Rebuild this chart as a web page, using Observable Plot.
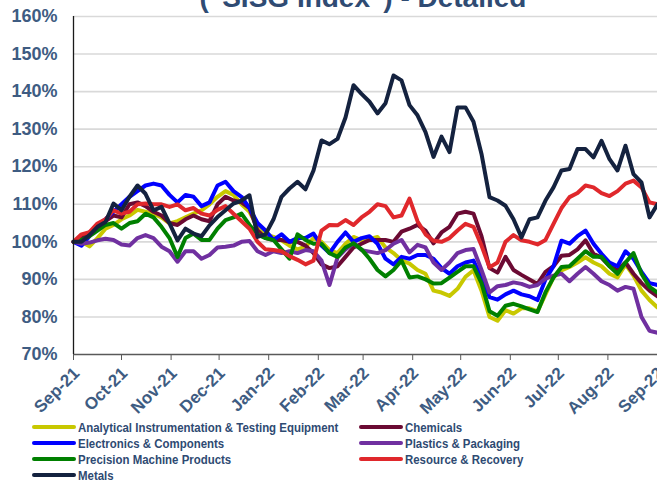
<!DOCTYPE html>
<html>
<head>
<meta charset="utf-8">
<script src="https://cdn.jsdelivr.net/npm/d3@7"></script>
<script src="https://cdn.jsdelivr.net/npm/@observablehq/plot@0.6"></script>
<style>
  html, body { margin: 0; padding: 0; background: #fff; }
  body { position: relative; width: 657px; height: 484px; overflow: hidden; font-family: "Liberation Sans", Arial, sans-serif; }
  #title { position: absolute; left: 363px; top: -16px; transform: translateX(-50%); white-space: nowrap;
           font: bold 28px/28px "Liberation Sans", Arial, sans-serif; color: #2F4B73; z-index: 2; }
  #legend { display: grid; grid-template-columns: 327px auto; padding-left: 32px; }
  #legend .item { height: 16px; display: flex; align-items: center; white-space: nowrap; }
  #legend .sw { display: inline-block; flex: none; width: 44px; height: 4.5px; border-radius: 2.5px; margin-right: 2px; }
  #legend .lab { display: inline-block; font-size: 13px; font-weight: bold; color: #2E4A72;
                 transform: scaleX(0.88); transform-origin: left center; }
</style>
</head>
<body>
<div id="title">("SISG Index") - Detailed</div>
<div id="chart"></div>
<div id="legend"></div>
<script>
const dates = [
  "2021-09-01","2021-09-06","2021-09-11","2021-09-16","2021-09-21","2021-09-26",
  "2021-10-01","2021-10-06","2021-10-11","2021-10-16","2021-10-21","2021-10-26","2021-10-31",
  "2021-11-05","2021-11-10","2021-11-15","2021-11-20","2021-11-25","2021-11-30",
  "2021-12-05","2021-12-10","2021-12-15","2021-12-20","2021-12-25","2021-12-30",
  "2022-01-04","2022-01-09","2022-01-14","2022-01-19","2022-01-24","2022-01-29",
  "2022-02-03","2022-02-08","2022-02-13","2022-02-18","2022-02-23","2022-02-28",
  "2022-03-05","2022-03-10","2022-03-15","2022-03-20","2022-03-25","2022-03-30",
  "2022-04-04","2022-04-09","2022-04-14","2022-04-19","2022-04-24","2022-04-29",
  "2022-05-04","2022-05-09","2022-05-14","2022-05-19","2022-05-24","2022-05-29",
  "2022-06-03","2022-06-08","2022-06-13","2022-06-18","2022-06-23","2022-06-28",
  "2022-07-03","2022-07-08","2022-07-13","2022-07-18","2022-07-23","2022-07-28",
  "2022-08-02","2022-08-07","2022-08-12","2022-08-17","2022-08-22","2022-08-27",
  "2022-09-01"
];

const seriesNames = [
  "Analytical Instrumentation & Testing Equipment",
  "Chemicals",
  "Electronics & Components",
  "Plastics & Packaging",
  "Precision Machine Products",
  "Resource & Recovery",
  "Metals"
];
const seriesColors = ["#C8C800", "#6B0A33", "#0000FF", "#7030A0", "#008000", "#E0282C", "#14223F"];

const analytical = [100,100,98.8,101,103.5,104.5,106,107,108.5,108,
  107.5,106.5,104.9,105.5,106.5,107.5,108.4,110,112,113.5,
  112.5,110,108,104,102,101.3,100.4,99,98,98.7,
  101,100,97.8,97,99.5,101.3,100.4,100.8,101.3,98.5,
  97,95.1,94.2,92.5,91.5,87,86.5,85.6,87.5,90.7,
  92.4,87,80,79,81.8,80.9,82.3,82.3,81.5,86,
  90.6,92.4,93.3,94.5,95.9,94.5,93.5,91.5,90.5,94,
  91,87,84.5,82.5];
const chemicals = [100,101,102.5,104,105.5,107,106.5,110,110.5,109.5,
  108,107,105,104.5,106,107,106,105.5,110,112,
  111,110.5,109,103,101,100.5,100.5,100,100,99,
  97,94,93,93.5,96,98.5,99.5,100.5,100.5,100.5,
  100,102.7,103.5,104.5,103,99.6,102.5,104,107.5,108,
  107.5,101.5,93,91.8,96,92.5,91.2,90,88.8,92,
  93.5,96.3,96.5,98,100.4,96.8,95.8,93.5,92.5,94.5,
  91.5,89,87,85.5];
const electronics = [100,99,101.5,104.5,106,108,110,112,113.5,115,
  115.5,115,112.5,110.5,112.5,112,109.5,110.5,115,116,
  113.5,112,109,105,103,100.5,102,100,101,101,
  102.2,99,97,100,102.5,100,101,101.5,99.5,95.5,
  94,96,95.5,96.5,96.5,95.5,93,91.5,93.5,94.5,
  95,90.5,85.3,84.6,86,87,86,85.5,84.5,90,
  93.5,100.3,99.5,101.5,103,99.5,96.8,94.5,93.5,97.5,
  95.5,92,89,88.5];
const plastics = [100,99.5,99.8,100.4,100.8,100.5,99.3,99,101,101.8,
  101,98.7,97.5,94.7,97.5,97.5,95.5,96.5,98.5,98.7,
  99,100,100.2,97.5,96.5,97.5,97,97.5,97,97.8,
  97.5,95,88.5,95.8,98,99.6,97.8,97.4,97,97.8,
  99.5,100.5,97.2,99.2,98.5,94.5,92.5,94.5,97,97.8,
  98.1,92.5,86.5,88.2,88.5,89.2,88.8,88,88.5,90.2,
  91,91.5,89.5,91.5,93.3,91.5,89.5,88.5,87,88,
  87.5,80,76.3,75.8];
const precision = [100,100.5,101.5,103,104.5,105,103.5,105,105.5,107.5,
  106.5,104,101,96,101,102.2,100.5,100.5,103.5,105.8,
  106.5,107.5,104.5,102,101,100.5,98,95.5,102,100.5,
  99.5,99.5,97,96,98.5,99.6,98,95.5,92.5,90.8,
  92.5,95,90.5,90.8,90,88.9,89,90.5,92,93.5,
  93.5,89,81.5,80.3,83,83.5,82.8,82,81.3,86.6,
  90.5,93.3,93.5,95.5,97.5,96,96,93.5,91.5,94.5,
  97,91.5,88,86.5];
const resource = [100,102,102.6,104.9,106,108.4,107.5,108,110,110.2,
  110,110,109.3,110,108.4,109,107.5,107,108.5,109.5,
  107.5,105.5,103.5,100,98,97.8,97.5,96.2,95.2,94,
  95,103,104.5,104.4,105.8,104.5,106.5,108,110,109.5,
  106.5,107,111.5,105.5,102,100.3,100,101,103,104.8,
  104,99,93.2,94.5,100,101.8,100.4,100,99.3,100.5,
  104.8,109,111.9,113,115,114.5,113,112.2,113.5,115.5,
  116.3,114.5,110.5,110];
const metals = [100,100,101.8,104,105.3,110.2,108.4,112,115,112.8,
  108.4,109.3,104.9,100.4,103.5,102.2,101.5,104.4,106.6,108.4,
  110.2,111,112.4,101.3,102,106,112,114.2,116,114,
  119,127,126,127.4,133.1,141.7,139.4,137.3,134.2,136.9,
  144.3,143,136.4,133.7,129.2,122.6,128,123.9,135.8,135.8,
  132,123.4,111.9,111,109.6,106,101.2,106,106.5,111,
  114.5,119,119.4,124.7,124.7,122.5,126.9,122,119,125.6,
  118,115.8,106.5,110];

const yTicks = [70, 80, 90, 100, 110, 120, 130, 140, 150, 160];
const monthLabels = ["Sep-21","Oct-21","Nov-21","Dec-21","Jan-22","Feb-22","Mar-22","Apr-22","May-22","Jun-22","Jul-22","Aug-22","Sep-22"];
const monthDates = ["2021-09-01","2021-10-01","2021-11-01","2021-12-01","2022-01-01","2022-02-01","2022-03-01","2022-04-01","2022-05-01","2022-06-01","2022-07-01","2022-08-01","2022-09-01"];

const allValues = [analytical, chemicals, electronics, plastics, precision, resource, metals];
const parse = d3.utcParse("%Y-%m-%d");
const dateObjs = dates.map(parse);
const monthObjs = monthDates.map(parse);
const labelOf = new Map(monthObjs.map((d, i) => [+d, monthLabels[i]]));

const lineMarks = allValues.map((vals, s) =>
  Plot.line(vals.map((v, i) => ({date: dateObjs[i], value: v, series: seriesNames[s]})), {
    x: "date", y: "value", stroke: seriesColors[s], strokeWidth: 4,
    strokeLinejoin: "round", strokeLinecap: "round"
  })
);

const chart = Plot.plot({
  width: 657, height: 419,
  marginLeft: 73, marginRight: 0, marginTop: 16, marginBottom: 65,
  style: {fontFamily: "'Liberation Sans', Arial, sans-serif", background: "transparent"},
  x: {type: "utc", domain: [monthObjs[0], monthObjs[monthObjs.length - 1]]},
  y: {domain: [70, 160]},
  marks: [
    Plot.gridY(yTicks.slice(1), {stroke: "#D9D9D9", strokeOpacity: 1, strokeWidth: 1.6}),
    ...lineMarks,
    Plot.ruleY([70], {stroke: "#595959", strokeWidth: 1.3}),
    Plot.ruleX([monthObjs[0]], {stroke: "#1a1a1a", strokeWidth: 1.3}),
    Plot.axisY(yTicks, {tickSize: 0, tickPadding: 16, tickFormat: d => d + "%",
      fontSize: 18, fontWeight: "bold", fill: "#3E5C82", label: null}),
    // tick marks only
    Plot.axisX(monthObjs, {tickSize: 6, tickFormat: () => "", stroke: "#595959", label: null}),
    // rotated month labels
    Plot.axisX(monthObjs, {tickSize: 0, tickPadding: 16, tickRotate: -45, textAnchor: "end",
      tickFormat: d => labelOf.get(+d), fontSize: 17, fontWeight: "bold", dx: 3,
      fill: "#3E5C82", label: null})
  ]
});
document.getElementById("chart").appendChild(chart);

// Legend (row-wise, two columns)
const legend = document.getElementById("legend");
seriesNames.forEach((name, i) => {
  const item = document.createElement("div");
  item.className = "item";
  const sw = document.createElement("span");
  sw.className = "sw";
  sw.style.background = seriesColors[i];
  const lab = document.createElement("span");
  lab.className = "lab";
  lab.textContent = name;
  item.appendChild(sw);
  item.appendChild(lab);
  legend.appendChild(item);
});
</script>
</body>
</html>
